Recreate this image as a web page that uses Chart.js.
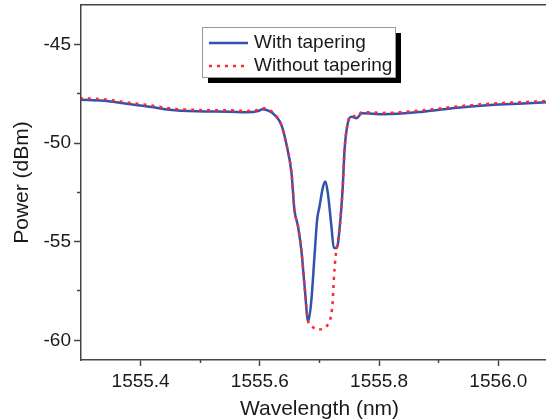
<!DOCTYPE html>
<html>
<head>
<meta charset="utf-8">
<script src="https://cdn.jsdelivr.net/npm/chart.js@4.4.0/dist/chart.umd.min.js"></script>
<style>
  html, body { margin: 0; padding: 0; background: #fff; overflow: hidden; }
  #wrap { width: 558px; height: 420px; }
</style>
</head>
<body>
<div id="wrap"><canvas id="spectrum" width="558" height="420"></canvas></div>
<script>
// transmission spectra
const taperWavelength = [1555.298, 1555.338, 1555.380, 1555.419, 1555.448, 1555.493, 1555.549, 1555.577,
    1555.599, 1555.604, 1555.616, 1555.625, 1555.636, 1555.644, 1555.653, 1555.658, 1555.664, 1555.670,
    1555.675, 1555.681, 1555.686, 1555.692, 1555.696, 1555.700, 1555.706, 1555.710, 1555.714, 1555.720,
    1555.724, 1555.729, 1555.734, 1555.739, 1555.742, 1555.748, 1555.754, 1555.762, 1555.771, 1555.807,
    1555.874, 1555.931, 1555.987, 1556.042, 1556.100];
const withTapering = [-47.80, -47.85, -48.02, -48.17, -48.31, -48.39, -48.41, -48.44,
    -48.36, -48.29, -48.38, -48.58, -49.08, -49.99, -51.51, -53.40, -54.23, -55.56,
    -57.27, -59.04, -58.09, -55.56, -53.89, -53.22, -52.21, -51.95, -52.54, -54.23,
    -55.32, -55.32, -54.23, -52.21, -50.35, -48.92, -48.66, -48.74, -48.49, -48.54,
    -48.41, -48.21, -48.07, -47.99, -47.90];

const plainWavelength = [1555.298, 1555.338, 1555.380, 1555.419, 1555.448, 1555.493, 1555.549, 1555.577,
    1555.599, 1555.604, 1555.616, 1555.625, 1555.636, 1555.644, 1555.653, 1555.658, 1555.664, 1555.670,
    1555.675, 1555.681, 1555.686, 1555.695, 1555.706, 1555.713, 1555.718, 1555.722, 1555.724, 1555.727,
    1555.729, 1555.734, 1555.739, 1555.742, 1555.748, 1555.754, 1555.762, 1555.771, 1555.807,
    1555.874, 1555.931, 1555.987, 1556.042, 1556.100];
const withoutTapering = [-47.72, -47.78, -47.95, -48.10, -48.24, -48.32, -48.34, -48.37,
    -48.30, -48.23, -48.32, -48.55, -49.08, -49.99, -51.51, -53.40, -54.23, -55.56,
    -57.27, -59.04, -59.25, -59.46, -59.42, -59.25, -58.95, -58.09, -56.93, -55.75,
    -55.32, -54.23, -52.21, -50.35, -48.90, -48.60, -48.68, -48.43, -48.47,
    -48.34, -48.14, -48.00, -47.92, -47.84];

const xTicks = [1555.4, 1555.6, 1555.8, 1556.0];
const xMinorTicks = [1555.5, 1555.7, 1555.9];
const yTicks = [-45, -50, -55, -60];
const yMinorTicks = [-47.5, -52.5, -57.5];

const FONT = "'Liberation Sans', Arial, sans-serif";
const AXIS = '#444';

function pairs(xs, ys) {
    return xs.map((x, i) => ({ x: x, y: ys[i] }));
}

function fixTicks(values) {
    return function(scale) {
        scale.ticks = values.map(v => ({ value: v }));
    };
}

// boxed legend with a drop shadow, like the original figure
const boxLegend = {
    id: 'boxLegend',
    afterDraw(chart) {
        const ctx = chart.ctx;
        const x = 202, y = 27, w = 193, h = 50;
        ctx.save();
        ctx.fillStyle = '#000';
        ctx.fillRect(x + 6, y + 6, w, h);
        ctx.fillStyle = '#fff';
        ctx.fillRect(x, y, w, h);
        ctx.strokeStyle = '#999';
        ctx.lineWidth = 1;
        ctx.strokeRect(x + 0.5, y + 0.5, w, h);
        chart.data.datasets.forEach((ds, i) => {
            const ry = 43 + i * 23;
            ctx.strokeStyle = ds.borderColor;
            ctx.lineWidth = ds.borderWidth;
            ctx.setLineDash(ds.borderDash || []);
            ctx.beginPath();
            ctx.moveTo(209, ry);
            ctx.lineTo(248, ry);
            ctx.stroke();
            ctx.setLineDash([]);
            ctx.fillStyle = '#1a1a1a';
            ctx.font = '19px ' + FONT;
            ctx.textBaseline = 'middle';
            ctx.fillText(ds.label, 254, ry);
        });
        ctx.restore();
    }
};

document.addEventListener("DOMContentLoaded", function() {
    var ctx = document.getElementById('spectrum').getContext('2d');
    new Chart(ctx, {
        type: 'line',
        data: {
            datasets: [{
                label: "With tapering",
                data: pairs(taperWavelength, withTapering),
                borderColor: "#3352b0",
                borderWidth: 2.5,
                pointRadius: 0,
                cubicInterpolationMode: 'monotone',
                order: 1,
            }, {
                label: "Without tapering",
                data: pairs(plainWavelength, withoutTapering),
                borderColor: "#ff2a2a",
                borderWidth: 2.5,
                borderDash: [3, 5],
                pointRadius: 0,
                cubicInterpolationMode: 'monotone',
                order: 0,
            }]
        },
        options: {
            responsive: false,
            animation: false,
            layout: { padding: { top: 5, right: 0, left: 0, bottom: 0 } },
            plugins: {
                legend: { display: false },
                tooltip: { enabled: false },
            },
            scales: {
                x: {
                    type: 'linear',
                    position: 'bottom',
                    min: 1555.3,
                    max: 1556.1,
                    weight: 1,
                    afterBuildTicks: fixTicks(xTicks),
                    afterFit: s => { s.height = 60; s.paddingLeft = 0; s.paddingRight = 0; },
                    grid: { drawOnChartArea: false, tickLength: 6, tickColor: AXIS, tickWidth: 1.5 },
                    border: { color: AXIS, width: 1.5 },
                    ticks: {
                        padding: 4,
                        maxRotation: 0,
                        color: '#1a1a1a',
                        font: { family: FONT, size: 19 },
                        callback: v => v.toFixed(1),
                    },
                    title: {
                        display: true,
                        text: "Wavelength (nm)",
                        color: '#1a1a1a',
                        font: { family: FONT, size: 21 },
                        padding: { top: 0, bottom: -2 },
                    },
                },
                xMinor: {
                    type: 'linear',
                    position: 'bottom',
                    min: 1555.3,
                    max: 1556.1,
                    weight: 0,
                    afterBuildTicks: fixTicks(xMinorTicks),
                    afterFit: s => { s.height = 0; s.paddingLeft = 0; s.paddingRight = 0; },
                    grid: { drawOnChartArea: false, tickLength: 3, tickColor: AXIS, tickWidth: 1.5 },
                    border: { display: false },
                    ticks: { display: false },
                },
                xTop: {
                    type: 'linear',
                    position: 'top',
                    min: 1555.3,
                    max: 1556.1,
                    afterFit: s => { s.height = 0; s.paddingLeft = 0; s.paddingRight = 0; },
                    grid: { display: false },
                    border: { color: AXIS, width: 1.5 },
                    ticks: { display: false },
                },
                y: {
                    min: -61,
                    max: -43,
                    position: 'left',
                    weight: 1,
                    afterBuildTicks: fixTicks(yTicks),
                    afterFit: s => { s.width = 81; s.paddingTop = 0; s.paddingBottom = 0; },
                    grid: { drawOnChartArea: false, tickLength: 7, tickColor: AXIS, tickWidth: 1.5 },
                    border: { color: AXIS, width: 1.5 },
                    ticks: {
                        padding: 3,
                        color: '#1a1a1a',
                        font: { family: FONT, size: 19 },
                    },
                    title: {
                        display: true,
                        text: "Power (dBm)",
                        color: '#1a1a1a',
                        font: { family: FONT, size: 21 },
                        padding: { top: 10, bottom: 0 },
                    },
                },
                yMinor: {
                    min: -61,
                    max: -43,
                    position: 'left',
                    weight: 0,
                    afterBuildTicks: fixTicks(yMinorTicks),
                    afterFit: s => { s.width = 0; s.paddingTop = 0; s.paddingBottom = 0; },
                    grid: { drawOnChartArea: false, tickLength: 4, tickColor: AXIS, tickWidth: 1.5 },
                    border: { display: false },
                    ticks: { display: false },
                },
            },
        },
        plugins: [boxLegend],
    });
});
</script>
</body>
</html>
